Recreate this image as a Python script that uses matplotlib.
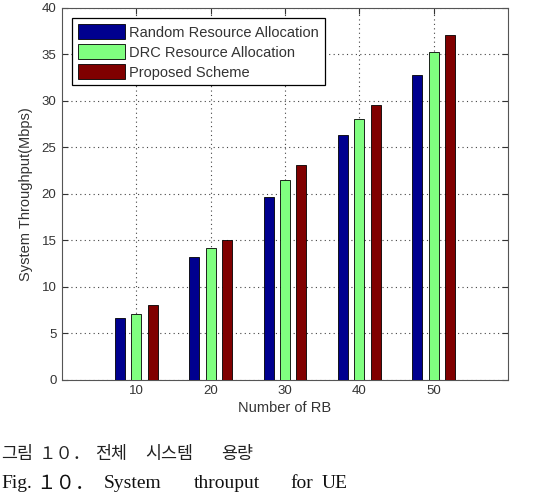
import numpy as np
import matplotlib
matplotlib.use("Agg")
import matplotlib.pyplot as plt

# number of resource blocks
rb = [10, 20, 30, 40, 50]
random_alloc = [6.6, 13.2, 19.7, 26.3, 32.8]
drc_alloc = [7.1, 14.2, 21.5, 28.1, 35.3]
proposed = [8.0, 15.0, 23.1, 29.6, 37.1]
labels = ["Random Resource Allocation", "DRC Resource Allocation", "Proposed Scheme"]
colors = ["#00008f", "#80ff80", "#800000"]

# caption words (korean line, english line)
cap_kr = ["그림", "１０．", "전체", "시스템", "용량"]
cap_en = ["Fig.", "１０．", "System", "throuput", "for", "UE"]

plt.rcParams['font.family'] = ['Liberation Sans', 'DejaVu Sans']

W, H = 533, 495
fig = plt.figure(figsize=(5.33, 4.95), dpi=100)
ax = fig.add_axes([62 / W, 1 - 379.5 / H, 446 / W, 371.5 / H])

x = np.array(rb, dtype=float)
w = 1.35
step = 2.2
for i, (vals, lab, c) in enumerate(zip([random_alloc, drc_alloc, proposed], labels, colors)):
    ax.bar(x + (i - 1) * step, vals, width=w, color=c, edgecolor="black",
           linewidth=0.6, label=lab, zorder=3)

ax.set_xlim(0, 60)
ax.set_ylim(0, 40)
ax.set_xticks(rb)
ax.set_yticks(range(0, 41, 5))
ax.grid(True, linestyle=(0, (1, 3)), color="#444444", linewidth=0.8, zorder=0)
ax.tick_params(direction="in", top=True, right=True, labelsize=9.5,
               colors="#333333", length=4, pad=4)
for s in ax.spines.values():
    s.set_color("#555555")

ax.set_xlabel("Number of RB", fontsize=10.5, color="#333333", labelpad=3)
ax.set_ylabel("System Throughput(Mbps)", fontsize=10.5, color="#333333", labelpad=6)

leg = ax.legend(loc="upper left", fontsize=10.5, fancybox=False, framealpha=1,
                edgecolor="black", borderpad=0.4, handlelength=3.2,
                handleheight=1.25, labelspacing=0.3, handletextpad=0.3,
                borderaxespad=0.7)
leg.get_frame().set_linewidth(0.9)
for t in leg.get_texts():
    t.set_color("#333333")

# caption below the figure, word by word (first word left aligned, rest centred)
kr_x = [1, 65, 111, 169.5, 237.5]
en_x = [1, 65, 132.5, 226.5, 301.5, 335]
for i, (word, px) in enumerate(zip(cap_kr, kr_x)):
    fig.text(px / W, 1 - 454 / H, word, fontsize=12.5,
             family=['Noto Sans CJK KR', 'DejaVu Sans'], color="#222222",
             va="center", ha="left" if i == 0 else "center")
for i, (word, px) in enumerate(zip(cap_en, en_x)):
    fig.text(px / W, 1 - 484 / H, word, fontsize=14,
             family=['Liberation Serif', 'Noto Sans CJK KR'], color="#111111",
             va="center", ha="left" if i == 0 else "center")

fig.savefig("out.png", dpi=100)
